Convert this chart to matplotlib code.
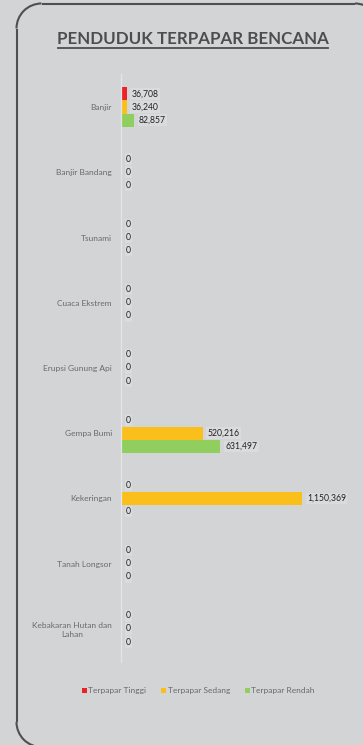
import matplotlib
matplotlib.use("Agg")
import matplotlib.pyplot as plt
from matplotlib.patches import FancyBboxPatch, Arc
from matplotlib.lines import Line2D

categories = ["Banjir", "Banjir Bandang", "Tsunami", "Cuaca Ekstrem", "Erupsi Gunung Api",
              "Gempa Bumi", "Kekeringan", "Tanah Longsor", "Kebakaran Hutan dan\nLahan"]
tinggi = [36708, 0, 0, 0, 0, 0, 0, 0, 0]
sedang = [36240, 0, 0, 0, 0, 520216, 1150369, 0, 0]
rendah = [82857, 0, 0, 0, 0, 631497, 0, 0, 0]
series_names = ["Terpapar Tinggi", "Terpapar Sedang", "Terpapar Rendah"]
title = "PENDUDUK TERPAPAR BENCANA"

BG = "#d3d4d6"
colors = ["#ec2227", "#fbbf1c", "#90ce5e"]
W, H = 363, 745
fig = plt.figure(figsize=(W / 100, H / 100), dpi=100, facecolor=BG)

body_font = ["Lato", "DejaVu Sans"]

# frame drawn in pixel coordinates
bg_ax = fig.add_axes([0, 0, 1, 1])
bg_ax.set_xlim(0, W)
bg_ax.set_ylim(H, 0)
bg_ax.set_autoscale_on(False)
bg_ax.axis("off")
fc = "#4f4f4f"
lw = 1.5
L, T, R, B, r = 16.5, 3.5, 380, 747, 25
bg_ax.plot([L, L], [T + r, B - r], color=fc, lw=lw, solid_capstyle="butt")
bg_ax.plot([L + r, R - r], [T, T], color=fc, lw=lw, solid_capstyle="butt")
bg_ax.plot([L + r, R - r], [B, B], color=fc, lw=lw, solid_capstyle="butt")
bg_ax.add_patch(Arc((L + r, T + r), 2 * r, 2 * r, theta1=180, theta2=270,
                    color=fc, lw=lw))
bg_ax.add_patch(Arc((R - r, T + r), 2 * r, 2 * r, theta1=270, theta2=360,
                    color=fc, lw=lw))
bg_ax.add_patch(Arc((L + r, B - r), 2 * r, 2 * r, theta1=90, theta2=180,
                    color=fc, lw=lw))

# title
fig.text(193 / W, 1 - 38.5 / H, title, ha="center", va="center", fontsize=12.2,
         fontweight="bold", color="#4d4d4d", family=["Lato", "DejaVu Sans"])
fig.add_artist(Line2D([58 / W, 328 / W], [1 - 47.5 / H, 1 - 47.5 / H],
                      transform=fig.transFigure, color="#4d4d4d", linewidth=1.3))

ax = fig.add_axes([121 / W, 1 - 661.6 / H, 220 / W, (661.6 - 74.4) / H])
ax.set_facecolor("none")
ax.set_xlim(0, 1398000)
ax.set_ylim(len(categories) - 0.5, -0.5)

bh = 0.2
offsets = [-bh, 0, bh]
for vals, off, col in zip([tinggi, sedang, rendah], offsets, colors):
    ys = [i + off for i in range(len(categories))]
    ax.barh(ys, vals, height=bh, color=col, linewidth=0)
    for y, v in zip(ys, vals):
        ax.annotate(f"{v:,}", xy=(v, y), xytext=(3.5, 0), textcoords="offset points",
                    ha="left", va="center", fontsize=6.2, color="#222222",
                    family=body_font,
                    bbox=dict(boxstyle="square,pad=0.15", facecolor="#dadbdd",
                              edgecolor="none"))

ax.set_yticks(range(len(categories)))
ax.set_yticklabels(categories, fontsize=6, color="#6a6a6a", family=body_font,
                   multialignment="center")
ax.tick_params(axis="y", length=0, pad=6.5)
ax.set_xticks([])
for s in ["top", "right", "bottom"]:
    ax.spines[s].set_visible(False)
ax.spines["left"].set_color("#e4e5e6")
ax.spines["left"].set_linewidth(0.9)

# legend
legend_y = 1 - 690 / H
items = [(82, series_names[0]), (161, series_names[1]), (245, series_names[2])]
for (x, name), col in zip(items, colors):
    fig.add_artist(FancyBboxPatch((x / W, legend_y - 2.5 / H), 5 / W, 5 / H,
                                  boxstyle="square,pad=0", transform=fig.transFigure,
                                  facecolor=col, edgecolor="none"))
    fig.text((x + 6.5) / W, legend_y, name, ha="left", va="center", fontsize=6,
             color="#6a6a6a", family=body_font)

fig.savefig("out.png", dpi=100, facecolor=BG)
